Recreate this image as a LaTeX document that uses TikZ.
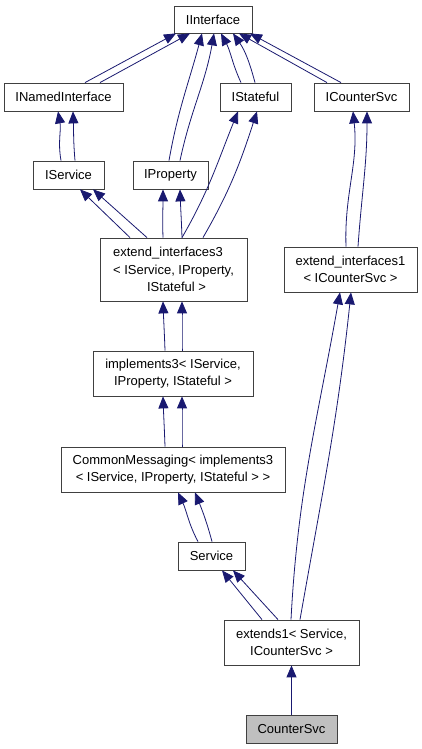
\documentclass[tikz,border=0pt]{standalone}
\usepackage{fontspec}
\setmainfont{Liberation Sans}
\usetikzlibrary{arrows.meta}
\definecolor{edgeblue}{RGB}{25,25,112}
\definecolor{leafgray}{RGB}{191,191,191}

\begin{document}
\begin{tikzpicture}[x=1pt,y=1pt,
  cls/.style={draw=black!75, line width=0.8pt, inner sep=0pt, align=center,
    font=\fontsize{13}{17.5}\selectfont},
  inh/.style={draw=edgeblue, line width=0.8pt, -{Triangle[length=12pt,width=10pt]}}]
\fill[color=white] (0.000000, 0.000000) rectangle (421.000000, 749.000000);
% Drawing classes
% Row 1: IInterface
\node[cls, minimum width=78pt, minimum height=27pt] (iinterface) at (213.000000, 729.500000) {IInterface};
% Row 2: INamedInterface IStateful ICounterSvc
\node[cls, minimum width=119pt, minimum height=28pt] (inamed) at (63.500000, 652.000000) {INamedInterface};
\node[cls, minimum width=71pt, minimum height=28pt] (istateful) at (255.500000, 652.000000) {IStateful};
\node[cls, minimum width=95pt, minimum height=28pt] (icountersvc) at (361.500000, 652.000000) {ICounterSvc};
% Row 3: IService IProperty
\node[cls, minimum width=71pt, minimum height=28pt] (iservice) at (68.500000, 574.000000) {IService};
\node[cls, minimum width=75pt, minimum height=28pt] (iproperty) at (170.500000, 574.000000) {IProperty};
% Row 4: extend_interfaces3 extend_interfaces1
\node[cls, align=left, minimum width=147pt, minimum height=63pt] (extthree) at (173.500000, 479.500000)
  {extend\_interfaces3\\< IService, IProperty,\\\hspace*{34pt}IStateful >};
\node[cls, minimum width=133pt, minimum height=45pt] (extone) at (350.500000, 479.500000)
  {extend\_interfaces1\\< ICounterSvc >};
% Row 5: implements3
\node[cls, minimum width=160pt, minimum height=45pt] (implthree) at (173.000000, 375.500000)
  {implements3< IService,\\IProperty, IStateful >};
% Row 6: CommonMessaging
\node[cls, minimum width=224pt, minimum height=45pt] (common) at (173.000000, 279.500000)
  {CommonMessaging< implements3\\< IService, IProperty, IStateful > >};
% Row 7: Service
\node[cls, minimum width=67pt, minimum height=28pt] (service) at (211.500000, 193.000000) {Service};
% Row 8: extends1
\node[cls, minimum width=135pt, minimum height=45pt] (extends) at (291.500000, 106.500000)
  {extends1< Service,\\ICounterSvc >};
% Row 9: CounterSvc
\node[cls, fill=leafgray, minimum width=91pt, minimum height=28pt] (countersvc) at (291.500000, 20.000000) {CounterSvc};
% Done with classes; drawing inheritance edges
% Edge: INamedInterface -> IInterface
\draw[inh] ([xshift=21.5pt]inamed.north) -- ([xshift=-37pt]iinterface.south);
\draw[inh] ([xshift=36.5pt]inamed.north) -- ([xshift=-23pt]iinterface.south);
% Edge: IProperty -> IInterface
\draw[inh] ([xshift=-1.5pt]iproperty.north) to[out=80, in=-105] ([xshift=-11pt]iinterface.south);
\draw[inh] ([xshift=9.5pt]iproperty.north) to[out=78, in=-100] ([xshift=1pt]iinterface.south);
% Edge: IStateful -> IInterface
\draw[inh] ([xshift=-14.5pt]istateful.north) to[out=115, in=-62] ([xshift=8pt]iinterface.south);
\draw[inh] ([xshift=-0.5pt]istateful.north) to[out=105, in=-55] ([xshift=20pt]iinterface.south);
% Edge: ICounterSvc -> IInterface
\draw[inh] ([xshift=-34.5pt]icountersvc.north) -- ([xshift=26pt]iinterface.south);
\draw[inh] ([xshift=-20.5pt]icountersvc.north) -- ([xshift=37pt]iinterface.south);
% Edge: IService -> INamedInterface
\draw[inh] ([xshift=-7.5pt]iservice.north) to[out=100, in=-80] ([xshift=-5.5pt]inamed.south);
\draw[inh] ([xshift=6.5pt]iservice.north) to[out=95, in=-88] ([xshift=9.5pt]inamed.south);
% Edge: extend_interfaces3 -> IService
\draw[inh] ([xshift=-43.5pt]extthree.north) -- ([xshift=11.5pt]iservice.south);
\draw[inh] ([xshift=-26.5pt]extthree.north) -- ([xshift=24.5pt]iservice.south);
% Edge: extend_interfaces3 -> IProperty
\draw[inh] ([xshift=-10.5pt]extthree.north) to[out=92, in=-90] ([xshift=-7.5pt]iproperty.south);
\draw[inh] ([xshift=8.5pt]extthree.north) to[out=92, in=-88] ([xshift=9.5pt]iproperty.south);
% Edge: extend_interfaces3 -> IStateful
\draw[inh] ([xshift=8.5pt]extthree.north) to[out=60, in=-112] ([xshift=-17.5pt]istateful.south);
\draw[inh] ([xshift=29.5pt]extthree.north) to[out=60, in=-108] ([xshift=1.5pt]istateful.south);
% Edge: extend_interfaces1 -> ICounterSvc
\draw[inh] ([xshift=-4.5pt]extone.north) to[out=92, in=-84] ([xshift=-8.5pt]icountersvc.south);
\draw[inh] ([xshift=7.5pt]extone.north) to[out=86, in=-90] ([xshift=5.5pt]icountersvc.south);
% Edge: implements3 -> extend_interfaces3
\draw[inh] ([xshift=-8pt]implthree.north) to[out=92, in=-88] ([xshift=-10.5pt]extthree.south);
\draw[inh] ([xshift=9pt]implthree.north) to[out=90, in=-90] ([xshift=8.5pt]extthree.south);
% Edge: CommonMessaging -> implements3
\draw[inh] ([xshift=-8pt]common.north) to[out=92, in=-88] ([xshift=-10pt]implthree.south);
\draw[inh] ([xshift=9pt]common.north) to[out=90, in=-90] ([xshift=9pt]implthree.south);
% Edge: Service -> CommonMessaging
\draw[inh] ([xshift=-13.5pt]service.north) to[out=118, in=-65] ([xshift=5pt]common.south);
\draw[inh] ([xshift=0.5pt]service.north) to[out=105, in=-68] ([xshift=22pt]common.south);
% Edge: extends1 -> Service
\draw[inh] ([xshift=-29.5pt]extends.north) -- ([xshift=10.5pt]service.south);
\draw[inh] ([xshift=-13.5pt]extends.north) -- ([xshift=21.5pt]service.south);
% Edge: extends1 -> extend_interfaces1
\draw[inh] ([xshift=-0.5pt]extends.north) to[out=87, in=-100] ([xshift=-10.5pt]extone.south);
\draw[inh] ([xshift=8.5pt]extends.north) to[out=80, in=-96] ([xshift=0.5pt]extone.south);
% Edge: CounterSvc -> extends1
\draw[inh] (countersvc.north) -- (extends.south);
% Done with edges
\end{tikzpicture}
\end{document}
